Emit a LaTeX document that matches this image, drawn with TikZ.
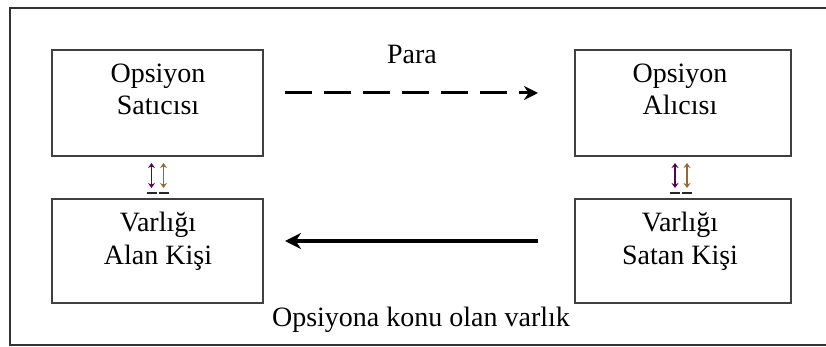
\documentclass[tikz,border=0pt]{standalone}
\usepackage{fontspec}
\setmainfont{Liberation Serif}
\usetikzlibrary{arrows.meta}
\begin{document}
\begin{tikzpicture}[x=1pt,y=-1pt,
  box/.style={draw=black!75, line width=1.6pt, minimum width=211pt, minimum height=106pt, inner sep=0pt, outer sep=0pt},
  txt/.style={anchor=base, inner sep=0pt, font=\fontsize{28}{32}\selectfont},
  dasharr/.style={line width=3pt, dash pattern=on 27pt off 12pt, -{Stealth[length=14pt,width=14pt]}},
  solidarr/.style={line width=4pt, -{Stealth[length=16pt,width=16pt]}},
  updown/.style={line width=1.3pt, {Stealth[length=5pt,width=7pt]}-{Stealth[length=5pt,width=7pt]}, shorten <=7pt, shorten >=11pt},
  basebar/.style={line width=1.6pt, black!85}]
\useasboundingbox (0,0) rectangle (826,347);
\draw[line width=1.5pt, black!80] (826,8) -- (10,8) -- (10,345) -- (826,345);

\node[box] (tl) at (157.5,103) {};
\node[box, minimum height=104pt] (bl) at (157.5,251) {};
\node[box, minimum width=216pt] (tr) at (683,103) {};
\node[box, minimum width=216pt, minimum height=104pt] (br) at (683,251) {};

\node[txt] (tl1) at (158,83) {Opsiyon};
\node[txt] (tl2) at (158,115) {Satıcısı};
\node[txt] (bl1) at (158,232) {Varlığı};
\node[txt] (bl2) at (158,264) {Alan Kişi};
\node[txt] (tr1) at (680,83) {Opsiyon};
\node[txt] (tr2) at (680,115) {Alıcısı};
\node[txt] (br1) at (680,232) {Varlığı};
\node[txt] (br2) at (680,264) {Satan Kişi};

\node[txt] (para) at (412,64) {Para};
\node[txt] (varlik) at (421,326) {Opsiyona konu olan varlık};

\draw[dasharr, shorten <=22pt, shorten >=37pt] ([yshift=10pt]tl.east) -- ([yshift=10pt]tr.west);
\draw[solidarr, shorten <=37pt, shorten >=22pt] ([yshift=10pt]br.west) -- ([yshift=10pt]bl.east);

\draw[updown, draw=violet!70!black] ([xshift=-6pt]tl.south) -- ([xshift=-6pt]bl.north);
\draw[updown, draw=brown!80!black] ([xshift=6pt]tl.south) -- ([xshift=6pt]bl.north);
\draw[basebar] ([xshift=-11pt,yshift=6pt]bl.north) -- ([xshift=-1pt,yshift=6pt]bl.north);
\draw[basebar] ([xshift=1pt,yshift=6pt]bl.north) -- ([xshift=11pt,yshift=6pt]bl.north);

\draw[updown, draw=violet!70!black] ([xshift=-8pt]tr.south) -- ([xshift=-8pt]br.north);
\draw[updown, draw=brown!80!black] ([xshift=4pt]tr.south) -- ([xshift=4pt]br.north);
\draw[basebar] ([xshift=-13pt,yshift=6pt]br.north) -- ([xshift=-3pt,yshift=6pt]br.north);
\draw[basebar] ([xshift=-1pt,yshift=6pt]br.north) -- ([xshift=9pt,yshift=6pt]br.north);
\end{tikzpicture}
\end{document}
